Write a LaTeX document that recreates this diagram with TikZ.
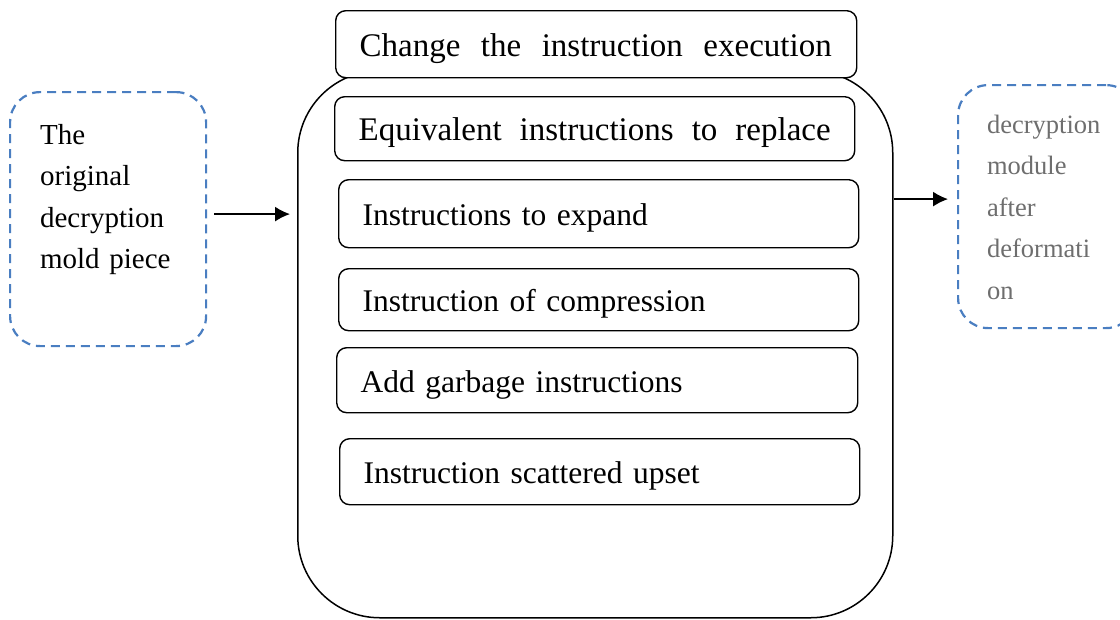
\documentclass[tikz,border=0pt]{standalone}
\usepackage{fontspec}
\setmainfont{Liberation Serif}
\usetikzlibrary{arrows.meta,calc}
\definecolor{dashblue}{RGB}{74,126,193}
\definecolor{softgray}{RGB}{110,110,110}
\begin{document}
\begin{tikzpicture}[x=1pt,y=-1pt,>={Latex[length=15pt,width=15pt]},
  opbox/.style={draw,line width=1.4pt,rounded corners=10pt,fill=white,anchor=north west,
    inner xsep=24pt,inner ysep=0pt,align=left,text height=26pt,text depth=2pt,
    font=\fontsize{31.5}{38}\selectfont},
  widebox/.style={opbox,font=\fontsize{33}{38}\selectfont},
  dashbox/.style={draw=dashblue,dash pattern=on 9pt off 6pt,line width=2.2pt,
    rounded corners=30pt,anchor=north west,align=left},
  flow/.style={->,line width=1.5pt}]
\useasboundingbox (0,0) rectangle (1120,619);
\clip (0,0) rectangle (1120,619);
% outer container
\node[draw,line width=1.5pt,rounded corners=82pt,minimum width=595pt,minimum height=547pt,
  anchor=north west,inner sep=0pt] (body) at (297,70) {};
% transformation steps
\node[widebox,text width=472pt,minimum height=64pt] (equiv) at (334,96)
  {\hbox to 472pt{Equivalent\hfill instructions\hfill to\hfill replace}};
\node[opbox,text width=472pt,minimum height=68pt] (expand) at (338,179) {Instructions to expand};
\node[opbox,text width=472pt,minimum height=62pt] (compress) at (338,268) {Instruction of compression};
\node[opbox,text width=473pt,minimum height=65pt] (garbage) at (336,347) {Add garbage instructions};
\node[opbox,text width=472pt,minimum height=66pt] (scatter) at (339,438) {Instruction scattered upset};
\node[widebox,text width=473pt,minimum height=67pt] (change) at (335,10)
  {\hbox to 472pt{Change\hfill the\hfill instruction\hfill execution}};
% input and output
\node[dashbox,inner xsep=30pt,inner ysep=32pt,text width=136pt,text height=20pt,text depth=170pt,
  font=\fontsize{29}{41.5}\selectfont] (orig) at (9,91) {The\\original\\decryption\\mold piece};
\node[dashbox,inner xsep=29pt,inner ysep=30pt,text width=120pt,text height=18pt,text depth=165pt,
  text=softgray,font=\fontsize{26.5}{41.5}\selectfont] (after) at (957,84)
  {decryption\\module\\after\\deformati\\on};
\draw[flow,shorten >=7pt] ($(orig.east)+(7pt,5pt)$) -- ($(body.west|-orig.east)+(0,5pt)$);
\draw[flow,shorten >=9pt] ($(body.east|-after.west)+(0,7.5pt)$) -- ($(after.west)+(0,7.5pt)$);
\end{tikzpicture}
\end{document}
